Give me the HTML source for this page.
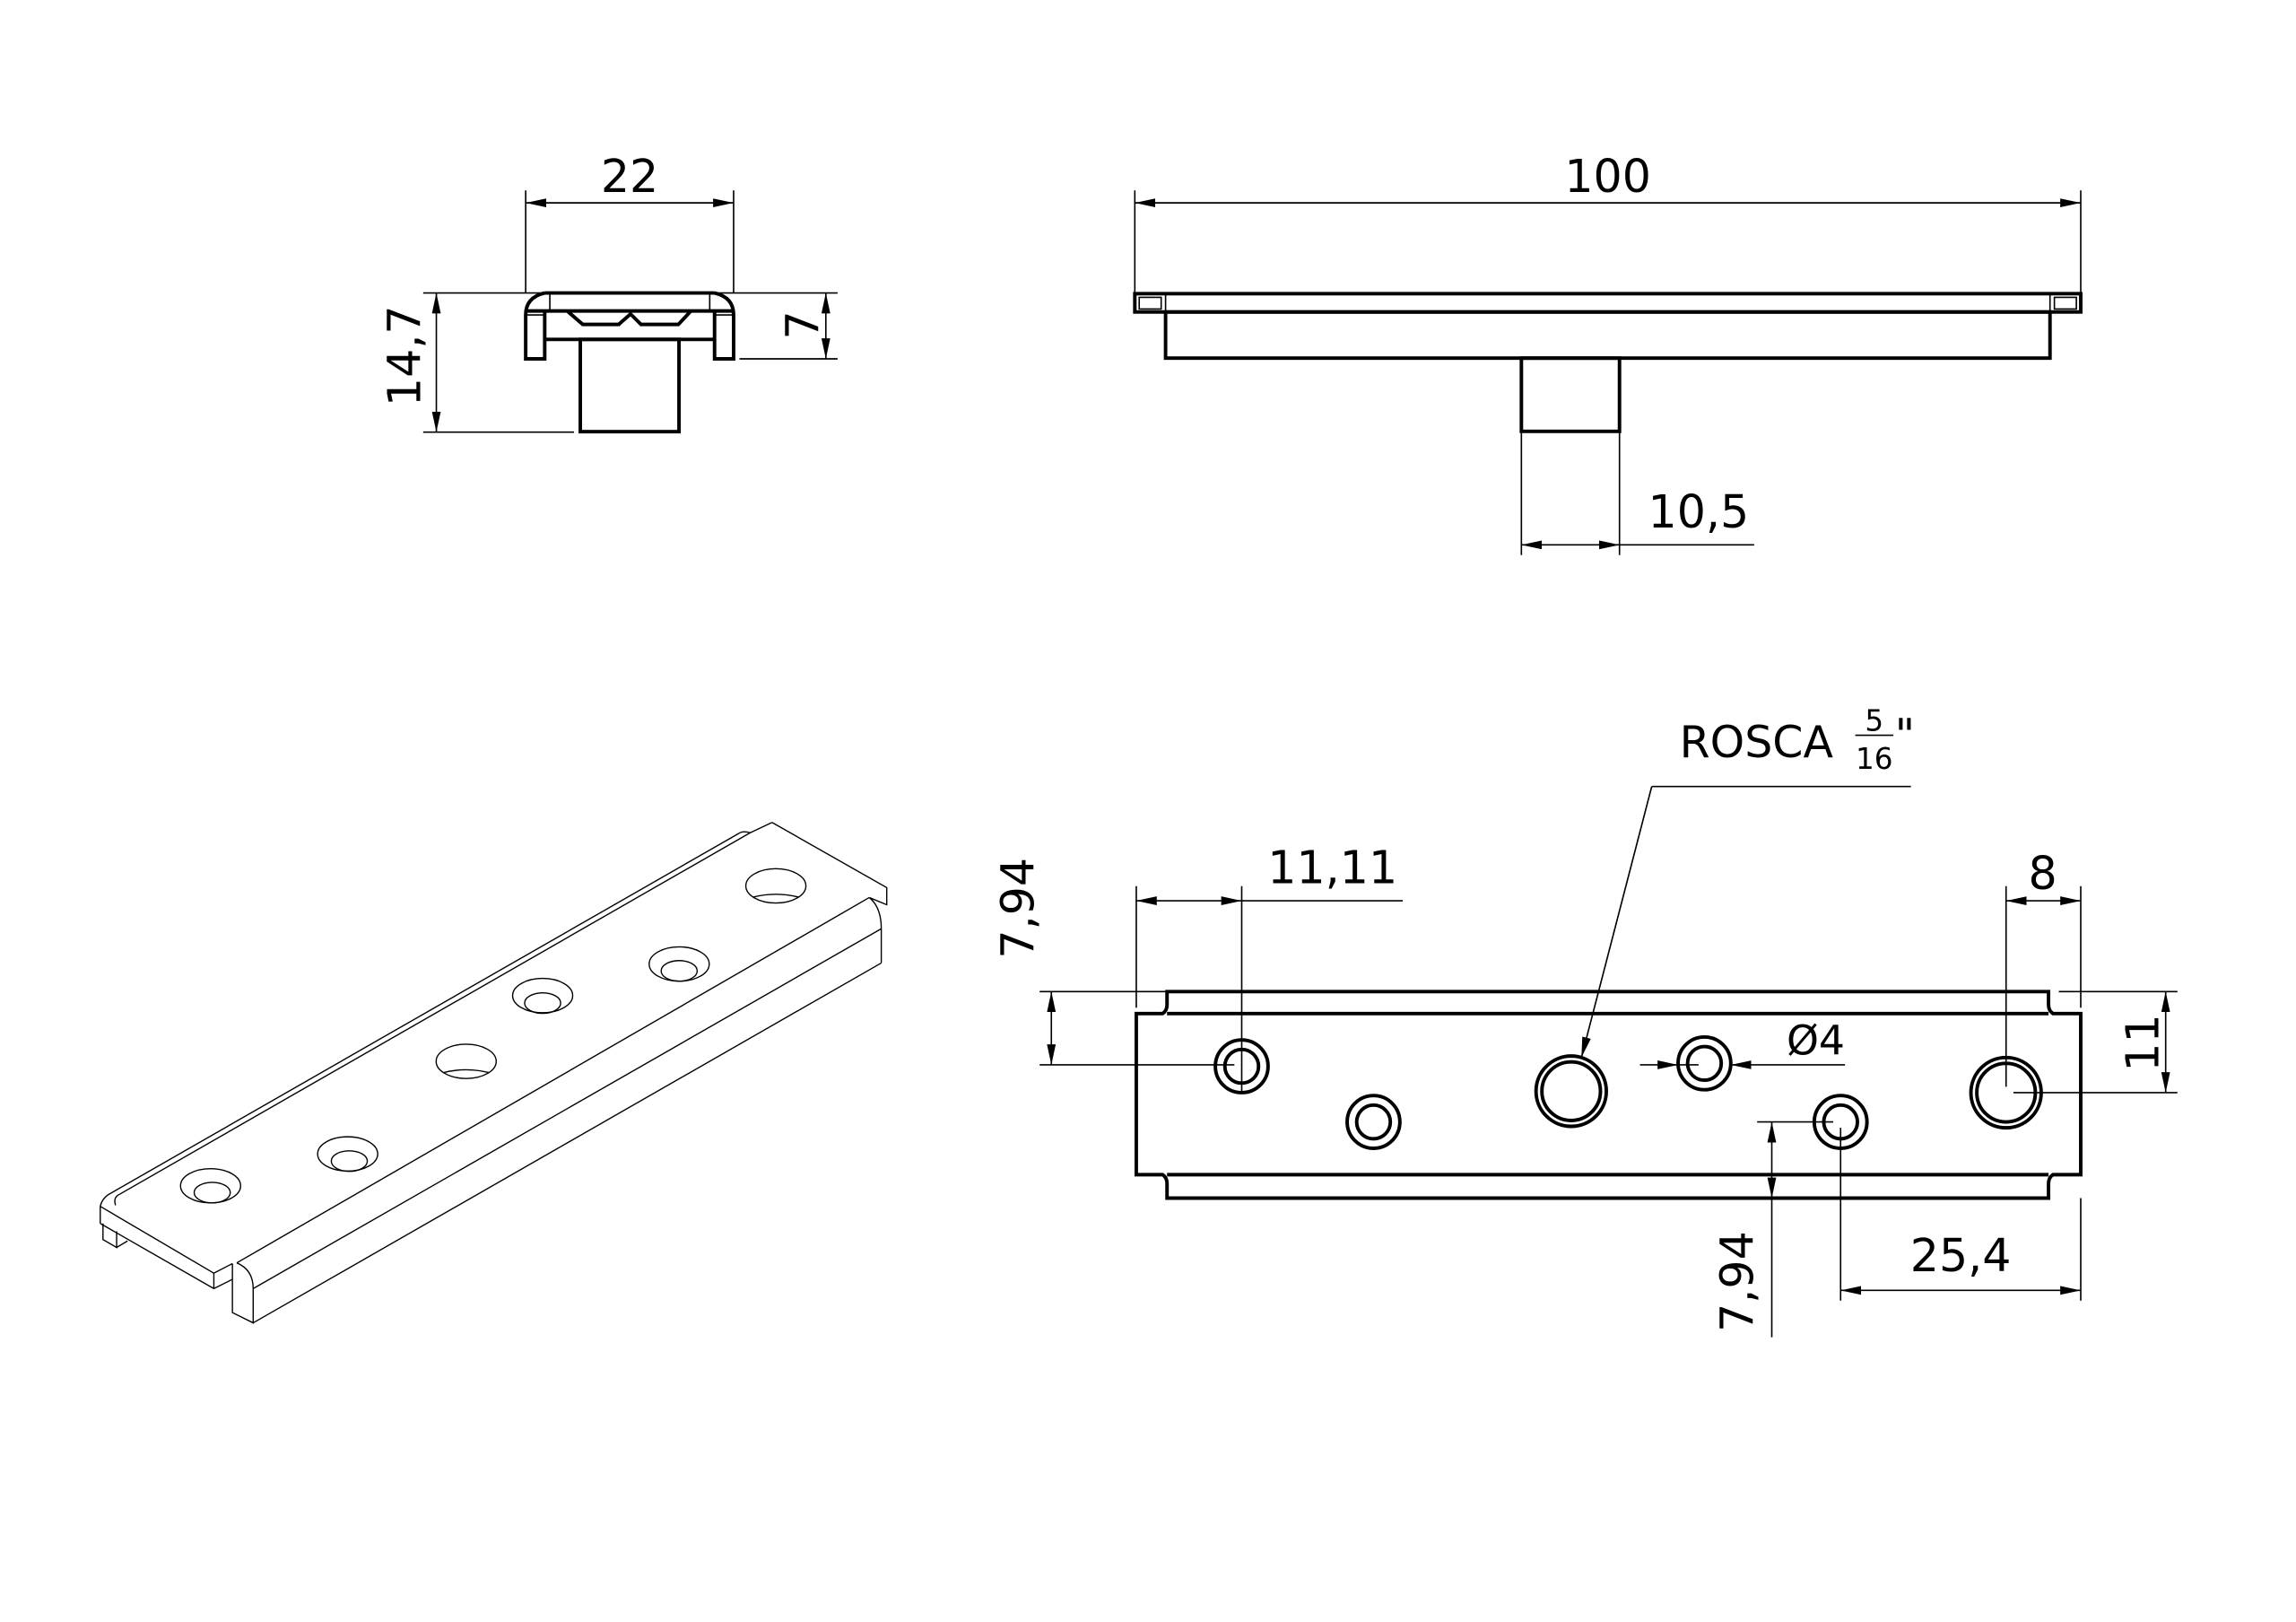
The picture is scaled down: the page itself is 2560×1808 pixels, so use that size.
<!DOCTYPE html>
<html><head><meta charset="utf-8"><style>
html,body{margin:0;padding:0;background:#fff}
svg{display:block}
.o{stroke:#000;stroke-width:2.4;fill:none}
.t{stroke:#000;stroke-width:1;fill:none}
.i{stroke:#000;stroke-width:1.4;fill:none;vector-effect:non-scaling-stroke}
text{font-family:"DejaVu Sans","Liberation Sans",sans-serif;font-size:31px;fill:#000}
</style></head><body>
<svg width="2560" height="1808" viewBox="0 0 1568 1107.4" preserveAspectRatio="none" xmlns="http://www.w3.org/2000/svg">
<defs>
<marker id="a" markerUnits="userSpaceOnUse" markerWidth="16" markerHeight="8" refX="14" refY="3" orient="auto-start-reverse"><path d="M0,0 L14,3 L0,6z" fill="#000"/></marker>
</defs>

<g>
<line class="t" x1="359" y1="130" x2="359" y2="200"/>
<line class="t" x1="501" y1="130" x2="501" y2="200"/>
<line class="t" x1="359" y1="138.5" x2="501" y2="138.5" marker-start="url(#a)" marker-end="url(#a)"/>
<text x="430" y="131" text-anchor="middle">22</text>
<line class="t" x1="289" y1="200" x2="572" y2="200"/>
<line class="t" x1="289" y1="295" x2="392" y2="295"/>
<line class="t" x1="298" y1="200" x2="298" y2="295" marker-start="url(#a)" marker-end="url(#a)"/>
<text transform="translate(287,243) rotate(-90)" text-anchor="middle">14,7</text>
<line class="t" x1="505" y1="245" x2="572" y2="245"/>
<line class="t" x1="564" y1="200" x2="564" y2="245" marker-start="url(#a)" marker-end="url(#a)"/>
<text transform="translate(559,222) rotate(-90)" text-anchor="middle">7</text>
<path class="o" d="M372,200 H488"/>
<path class="o" d="M372,200 Q359,203 359,215 V245 H372 V212 M488,200 Q501,203 501,215 V245 H488 V212"/>
<path class="o" d="M359,212.3 H501"/>
<path class="t" d="M375.5,200 V212 M484.7,200 V212 M359,215 H372 M488,215 H501"/>
<path class="o" d="M372,231.7 H488"/>
<path class="o" d="M387.8,212.7 L398,221.5 H422.5 L430.6,214.4 L437.8,221.5 H463.3 L471.5,212.7"/>
<path class="t" d="M422.5,222.5 L430.6,214.4 L437.8,222.5"/>
<rect class="o" x="396.3" y="231.7" width="67.4" height="63"/>
</g>

<g>
<line class="t" x1="775" y1="130" x2="775" y2="200"/>
<line class="t" x1="1421" y1="130" x2="1421" y2="200"/>
<line class="t" x1="775" y1="138.5" x2="1421" y2="138.5" marker-start="url(#a)" marker-end="url(#a)"/>
<text x="1098" y="131" text-anchor="middle">100</text>
<rect class="o" x="775" y="200.5" width="646" height="12.5"/>
<path class="t" d="M778,203 H793 V211 H778z M1403,203 H1418 V211 H1403z M796,201 V213 M1400,201 V213"/>
<rect class="o" x="796" y="213" width="604" height="31.5"/>
<rect class="o" x="1039" y="244.5" width="67" height="50"/>
<line class="t" x1="1039" y1="295" x2="1039" y2="379"/>
<line class="t" x1="1106" y1="295" x2="1106" y2="379"/>
<line class="t" x1="1039" y1="372" x2="1106" y2="372" marker-start="url(#a)" marker-end="url(#a)"/>
<line class="t" x1="1106" y1="372" x2="1198" y2="372"/>
<text x="1160" y="360" text-anchor="middle">10,5</text>
</g>

<g transform="translate(61,551) scale(0.373,0.234)">
<path class="i" d="M20,1165 L228,1360 M20,1215 L228,1405 M20,1165 V1215 M228,1360 V1405"/>
<path class="i" d="M25,1215 V1262 L50,1285 V1238 M50,1285 L70,1266"/>
<path class="i" d="M228,1360 L262,1332 M228,1405 L262,1378"/>
<path class="i" d="M262,1332 V1475 L300,1505 V1405 M270,1330 Q300,1350 300,1405"/>
<path class="i" d="M300,1505 L1450,455 M300,1405 L1450,355 M270,1330 L1428,264"/>
<path class="i" d="M1450,455 V355 Q1450,292 1428,264 M1428,264 L1460,285 V235 L1250,45"/>
<path class="i" d="M1250,45 L1210,75 Q1196,68 1188,78 L38,1128 Q24,1140 20,1165"/>
<path class="i" d="M1210,75 L52,1133 Q44,1142 48,1162"/>
<g>
<ellipse class="i" cx="222" cy="1105" rx="55" ry="50"/><ellipse class="i" cx="225" cy="1125" rx="33" ry="30"/>
<ellipse class="i" cx="473" cy="1012" rx="55" ry="50"/><ellipse class="i" cx="476" cy="1033" rx="33" ry="30"/>
<ellipse class="i" cx="690" cy="742" rx="55" ry="50"/><path class="i" d="M648,775 Q690,758 732,775"/>
<ellipse class="i" cx="830" cy="550" rx="55" ry="50"/><ellipse class="i" cx="830" cy="572" rx="33" ry="30"/>
<ellipse class="i" cx="1080" cy="458" rx="55" ry="50"/><ellipse class="i" cx="1080" cy="478" rx="33" ry="30"/>
<ellipse class="i" cx="1257" cy="230" rx="55" ry="50"/><path class="i" d="M1215,263 Q1257,246 1299,263"/>
</g>
</g>

<g>
<path class="o" d="M776,692 H794 Q797,690 797,686 V677 H1399 V686 Q1399,690 1402,692 H1421 V802 H1402 Q1399,804 1399,808 V818 H797 V808 Q797,804 794,802 H776 Z"/>
<line class="o" x1="797" y1="692" x2="1399" y2="692"/>
<line class="o" x1="797" y1="802" x2="1399" y2="802"/>
<g class="o">
<circle cx="848" cy="728" r="18"/><circle cx="848" cy="728" r="11.5"/>
<circle cx="938" cy="766" r="18"/><circle cx="938" cy="766" r="11.5"/>
<circle cx="1073" cy="745" r="24"/><circle cx="1073" cy="745" r="20"/>
<circle cx="1164" cy="726" r="18"/><circle cx="1164" cy="726" r="11.5"/>
<circle cx="1257" cy="766" r="18"/><circle cx="1257" cy="766" r="11.5"/>
<circle cx="1370" cy="746" r="24"/><circle cx="1370" cy="746" r="20"/>
</g>
<line class="t" x1="710" y1="677" x2="797" y2="677"/>
<line class="t" x1="710" y1="727" x2="843" y2="727"/>
<line class="t" x1="718" y1="677" x2="718" y2="727" marker-start="url(#a)" marker-end="url(#a)"/>
<text transform="translate(706,620) rotate(-90)" text-anchor="middle">7,94</text>
<line class="t" x1="776" y1="605" x2="776" y2="688"/>
<line class="t" x1="848" y1="605" x2="848" y2="745"/>
<line class="t" x1="776" y1="615" x2="848" y2="615" marker-start="url(#a)" marker-end="url(#a)"/>
<line class="t" x1="848" y1="615" x2="958" y2="615"/>
<text x="910" y="603" text-anchor="middle">11,11</text>
<line class="t" x1="1370" y1="605" x2="1370" y2="742"/>
<line class="t" x1="1421" y1="605" x2="1421" y2="688"/>
<line class="t" x1="1370" y1="615" x2="1421" y2="615" marker-start="url(#a)" marker-end="url(#a)"/>
<text x="1395" y="607" text-anchor="middle">8</text>
<line class="t" x1="1406" y1="677" x2="1487" y2="677"/>
<line class="t" x1="1375" y1="746" x2="1487" y2="746"/>
<line class="t" x1="1479" y1="677" x2="1479" y2="746" marker-start="url(#a)" marker-end="url(#a)"/>
<text transform="translate(1474,712) rotate(-90)" text-anchor="middle">11</text>
<line class="t" x1="1120" y1="727" x2="1146" y2="727" marker-end="url(#a)"/>
<line class="t" x1="1260" y1="727" x2="1182" y2="727" marker-end="url(#a)"/>
<line class="t" x1="1146" y1="727" x2="1160" y2="727"/>
<text x="1240" y="720" text-anchor="middle" style="font-size:28px">Ø4</text>
<line class="t" x1="1200" y1="766" x2="1252" y2="766"/>
<line class="t" x1="1210" y1="766" x2="1210" y2="818" marker-start="url(#a)" marker-end="url(#a)"/>
<line class="t" x1="1210" y1="818" x2="1210" y2="913"/>
<text transform="translate(1197,875) rotate(-90)" text-anchor="middle">7,94</text>
<line class="t" x1="1257" y1="770" x2="1257" y2="888"/>
<line class="t" x1="1421" y1="818" x2="1421" y2="888"/>
<line class="t" x1="1257" y1="881" x2="1421" y2="881" marker-start="url(#a)" marker-end="url(#a)"/>
<text x="1339" y="868" text-anchor="middle">25,4</text>
<line class="t" x1="1128" y1="537" x2="1305" y2="537"/>
<line class="t" x1="1128" y1="537" x2="1080" y2="722" marker-end="url(#a)"/>
<text x="1147" y="517" style="font-size:30px">ROSCA</text>
<text x="1280" y="499" text-anchor="middle" style="font-size:20px">5</text>
<line class="t" x1="1267" y1="502" x2="1293" y2="502"/>
<text x="1280" y="525" text-anchor="middle" style="font-size:20px">16</text>
<text x="1294" y="512" style="font-size:30px">"</text>
</g>
</svg>
</body></html>
